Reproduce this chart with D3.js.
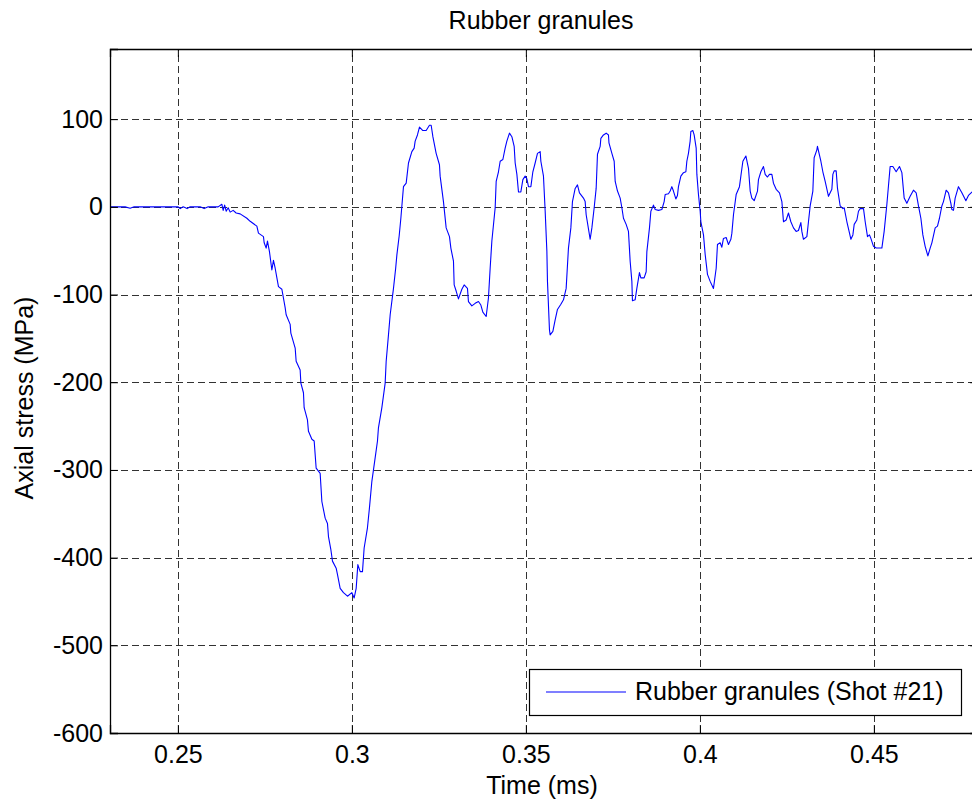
<!DOCTYPE html>
<html>
<head>
<meta charset="utf-8">
<script src="https://cdn.jsdelivr.net/npm/d3@7"></script>
<style>
  html, body { margin: 0; padding: 0; background: #fff; overflow: hidden; }
  svg { display: block; font-family: "Liberation Sans", Arial, Helvetica, sans-serif; }
</style>
</head>
<body>
<svg id="chart" width="972" height="807"></svg>
<script>
// Time (ms) of each sample
const time = [
  0.23055, 0.23486, 0.23629, 0.23744, 0.2501, 0.25066, 0.25152, 0.25267, 0.25353, 0.25641,
  0.25756, 0.25871, 0.26158, 0.26264, 0.26302, 0.26345, 0.26388, 0.26445, 0.26503, 0.26589,
  0.26675, 0.2679, 0.26983, 0.27078, 0.2727, 0.27316, 0.2746, 0.2748, 0.27537, 0.27575,
  0.27632, 0.27701, 0.27747, 0.27796, 0.27891, 0.27989, 0.28083, 0.28112, 0.28227, 0.28247,
  0.28371, 0.28399, 0.28514, 0.28535, 0.28609, 0.28629, 0.28724, 0.28753, 0.28851, 0.28917,
  0.28974, 0.29089, 0.29138, 0.29233, 0.29299, 0.29328, 0.29397, 0.29443, 0.29549, 0.29586,
  0.29664, 0.29759, 0.29874, 0.3, 0.30066, 0.30124, 0.30172, 0.30239, 0.30305, 0.30353,
  0.30448, 0.30506, 0.30575, 0.3067, 0.30736, 0.30764, 0.30862, 0.30957, 0.30986, 0.31052,
  0.31101, 0.31196, 0.31259, 0.31293, 0.3136, 0.31408, 0.31483, 0.31561, 0.31627, 0.31724,
  0.3179, 0.31819, 0.31885, 0.31943, 0.3204, 0.32135, 0.3223, 0.32279, 0.32328, 0.32422,
  0.32517, 0.32537, 0.32632, 0.3271, 0.32805, 0.32845, 0.3292, 0.3294, 0.32997, 0.33063,
  0.33161, 0.33227, 0.33322, 0.3335, 0.33448, 0.33543, 0.33638, 0.33707, 0.33764, 0.33859,
  0.33925, 0.33974, 0.34023, 0.34118, 0.34147, 0.34213, 0.34262, 0.34339, 0.34405, 0.34454,
  0.34529, 0.34598, 0.34664, 0.34693, 0.34742, 0.34788, 0.34856, 0.34914, 0.3498, 0.35029,
  0.35075, 0.35144, 0.35201, 0.35267, 0.35334, 0.35411, 0.35431, 0.35506, 0.35555, 0.35604,
  0.35621, 0.35678, 0.35698, 0.35776, 0.35842, 0.35908, 0.36006, 0.36081, 0.36158, 0.36224,
  0.36293, 0.36339, 0.36417, 0.36483, 0.3654, 0.36655, 0.36704, 0.36733, 0.36848, 0.36897,
  0.36963, 0.3702, 0.37058, 0.37135, 0.37155, 0.3723, 0.37308, 0.37374, 0.37388, 0.37472,
  0.37538, 0.37567, 0.37633, 0.3771, 0.37759, 0.37805, 0.37882, 0.37948, 0.37997, 0.38046,
  0.38063, 0.3814, 0.38189, 0.38264, 0.38304, 0.38399, 0.38457, 0.38477, 0.38552, 0.38592,
  0.38667, 0.38716, 0.38811, 0.38908, 0.38974, 0.39003, 0.39098, 0.39147, 0.39195, 0.39241,
  0.3931, 0.39356, 0.39385, 0.39454, 0.39529, 0.39598, 0.39626, 0.39672, 0.39721, 0.39741,
  0.39799, 0.39836, 0.39894, 0.39914, 0.3996, 0.40009, 0.40029, 0.40104, 0.40152, 0.40219,
  0.40296, 0.40391, 0.40469, 0.40506, 0.40583, 0.40632, 0.40678, 0.40756, 0.40822, 0.40891,
  0.4092, 0.40966, 0.41043, 0.41138, 0.41178, 0.41236, 0.41322, 0.41397, 0.41446, 0.41494,
  0.41561, 0.41656, 0.41684, 0.41753, 0.41828, 0.41877, 0.41943, 0.42, 0.42069, 0.42115,
  0.42193, 0.42288, 0.42357, 0.42403, 0.4248, 0.42546, 0.42615, 0.4269, 0.42767, 0.42833,
  0.42902, 0.42931, 0.42977, 0.43075, 0.43121, 0.4317, 0.43247, 0.43284, 0.43362, 0.43379,
  0.43477, 0.43534, 0.43601, 0.43696, 0.43793, 0.43822, 0.4386, 0.43917, 0.43955, 0.44032,
  0.4411, 0.44147, 0.44225, 0.443, 0.4434, 0.44397, 0.44435, 0.44512, 0.44558, 0.44607,
  0.44702, 0.44751, 0.44817, 0.44874, 0.44914, 0.44989, 0.45066, 0.4523, 0.45296, 0.45374,
  0.45468, 0.45546, 0.45641, 0.45736, 0.45805, 0.45871, 0.45948, 0.46043, 0.46138, 0.46216,
  0.46282, 0.46351, 0.46408, 0.46474, 0.46552, 0.46618, 0.46667, 0.46762, 0.46828, 0.46885,
  0.46954, 0.47, 0.47078, 0.47144, 0.47213, 0.47241, 0.47288, 0.47336, 0.47431, 0.47529,
  0.47644, 0.47718, 0.47825, 0.4790
];

// Axial stress (MPa) at each sample
const stress = [
  0, 0, -1.5, 0, 0, -2, 0, -2, 0, 0,
  -2, 0, 0, 3, -4, 2, -5, -1, -6, -4,
  -7, -8, -13, -16.5, -22, -30, -34, -41, -47, -39,
  -51, -72, -61, -70, -91, -94, -115, -123, -134, -144,
  -161, -176, -186, -201, -212, -229, -243, -256, -265, -267,
  -298, -304, -336, -355, -361, -376, -391, -404, -412, -419,
  -435, -440, -444, -440, -446, -435, -408, -416, -416, -389,
  -366, -343, -313, -286, -267, -252, -229, -201, -176, -146,
  -123, -93, -70, -55, -33, -13, 23, 27, 50, 63,
  67, 75, 82, 91, 87, 87, 93, 93, 80, 61,
  48, 35, 6, -24, -34, -47, -62, -89, -96, -105,
  -94, -89, -93, -108, -113, -110, -108, -112, -120, -125,
  -104, -70, -39, -1, 29, 40, 52, 54, 67, 75,
  84, 80, 69, 50, 37, 17, 17, 31, 35, 32,
  23, 23, 40, 50, 61, 63, 52, 35, -5, -51,
  -85, -140, -146, -142, -129, -117, -111, -106, -93, -47,
  -24, 6, 21, 25, 16, 10, 6, -9, -37, -24,
  -1, 21, 60, 69, 78, 82, 84, 82, 73, 61,
  52, 29, 18, 10, -1, -13, -20, -28, -62, -85,
  -107, -106, -93, -75, -81, -81, -74, -51, -24, -5,
  2, -3, -4, -3, 6, 14, 15, 18, 23, 18,
  9, 13, 23, 35, 39, 40, 52, 61, 75, 86,
  87, 82, 67, 37, 14, -5, -17, -32, -54, -77,
  -85, -93, -70, -43, -41, -46, -36, -35, -43, -37,
  -30, -9, 14, 23, 35, 52, 58, 44, 18, 10,
  7, 18, 31, 40, 46, 37, 34, 37, 37, 27,
  20, 16, 6, -17, -15, -7, -17, -24, -28, -27,
  -18, -28, -37, -34, -17, 1, 18, 56, 65, 69,
  52, 40, 29, 12, 20, 37, 41, 41, 21, 1,
  -2, -1, -17, -30, -37, -32, -20, -15, -5, -2,
  -2, -17, -34, -32, -36, -45, -47, -47, -28, 3,
  46, 46, 40, 46, 39, 10, 4, 12, 19, 16,
  1, -13, -32, -45, -56, -47, -41, -24, -22, -13,
  1, 6, 19, 16, 4, -3, -4, 10, 23, 16,
  7, 13, 17, 18
];

const xTicks = [0.25, 0.3, 0.35, 0.4, 0.45];
const yTicks = [-600, -500, -400, -300, -200, -100, 0, 100];
const xDomain = [0.2305, 0.48];
const yDomain = [-600, 180];

const titleText = "Rubber granules";
const xLabel = "Time (ms)";
const yLabel = "Axial stress (MPa)";
const seriesName = "Rubber granules (Shot #21)";

const svg = d3.select("#chart");
const plotLeft = 110, plotTop = 49, plotBottom = 733;
const pxPerMs = 3480;
const plotRight = plotLeft + (xDomain[1] - xDomain[0]) * pxPerMs;

const x = d3.scaleLinear().domain(xDomain).range([plotLeft, plotRight]);
const y = d3.scaleLinear().domain(yDomain).range([plotBottom, plotTop]);

const fontSize = 25;
const tickLen = 8;

// dashed grid
const grid = svg.append("g").attr("stroke", "#000").attr("stroke-width", 1)
  .attr("stroke-dasharray", "7,4").attr("opacity", 0.8);
grid.selectAll("line.gx").data(xTicks).join("line")
  .attr("x1", d => Math.round(x(d)) + 0.5).attr("x2", d => Math.round(x(d)) + 0.5)
  .attr("y1", plotBottom).attr("y2", plotTop);
grid.selectAll("line.gy").data(yTicks.filter(d => d > yDomain[0])).join("line")
  .attr("x1", plotLeft).attr("x2", plotRight)
  .attr("y1", d => Math.round(y(d)) + 0.5).attr("y2", d => Math.round(y(d)) + 0.5);

// data trace
const data = time.map((t, i) => [t, stress[i]]);
svg.append("path")
  .datum(data)
  .attr("fill", "none")
  .attr("stroke", "#0000ff")
  .attr("stroke-width", 1.1)
  .attr("stroke-linejoin", "round")
  .attr("d", d3.line().x(d => x(d[0])).y(d => y(d[1])));

// axes with inward ticks (box style)
const xAxis = svg.append("g").attr("transform", `translate(0,${plotBottom})`)
  .call(d3.axisBottom(x).tickValues(xTicks).tickSize(-tickLen).tickPadding(12)
    .tickFormat(d => String(d)));
const xAxisTop = svg.append("g").attr("transform", `translate(0,${plotTop})`)
  .call(d3.axisTop(x).tickValues(xTicks).tickSize(-tickLen).tickFormat(""));
const yAxis = svg.append("g").attr("transform", `translate(${plotLeft},0)`)
  .call(d3.axisLeft(y).tickValues(yTicks).tickSize(-tickLen).tickPadding(7)
    .tickFormat(d => String(d)));
const yAxisRight = svg.append("g").attr("transform", `translate(${plotRight},0)`)
  .call(d3.axisRight(y).tickValues(yTicks).tickSize(-tickLen).tickFormat(""));

[xAxis, xAxisTop, yAxis, yAxisRight].forEach(g => {
  g.select(".domain").attr("stroke", "#000").attr("stroke-width", 1.3);
  g.selectAll(".tick line").attr("stroke", "#000");
  g.selectAll(".tick text").attr("fill", "#000").attr("font-size", fontSize)
    .attr("font-family", "Liberation Sans, Arial, sans-serif");
});

// title and axis labels
svg.append("text").attr("x", 541).attr("y", 29).attr("text-anchor", "middle")
  .attr("font-size", fontSize).attr("fill", "#000").text(titleText);
svg.append("text").attr("x", 542).attr("y", 794).attr("text-anchor", "middle")
  .attr("font-size", fontSize).attr("fill", "#000").text(xLabel);
svg.append("text").attr("transform", "translate(33,398) rotate(-90)")
  .attr("text-anchor", "middle")
  .attr("font-size", fontSize).attr("fill", "#000").text(yLabel);

// legend
const lg = svg.append("g");
lg.append("rect").attr("x", 529.5).attr("y", 669.5).attr("width", 432).attr("height", 46)
  .attr("fill", "#fff").attr("stroke", "#000").attr("stroke-width", 1.2);
lg.append("line").attr("x1", 546).attr("x2", 626).attr("y1", 692).attr("y2", 692)
  .attr("stroke", "#0000ff").attr("stroke-width", 1.1);
lg.append("text").attr("x", 635).attr("y", 700).attr("font-size", fontSize)
  .attr("fill", "#000").text(seriesName);
</script>
</body>
</html>
